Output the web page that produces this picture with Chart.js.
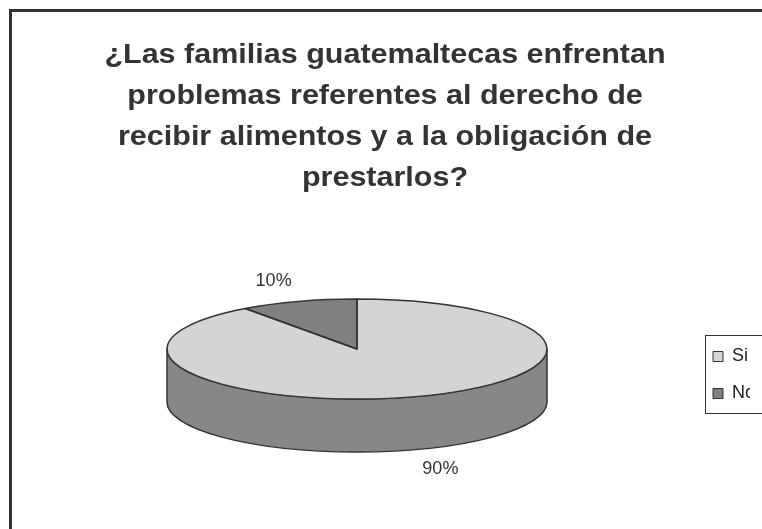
<!DOCTYPE html>
<html>
<head>
<meta charset="utf-8">
<script src="https://cdn.jsdelivr.net/npm/chart.js@4.4.1/dist/chart.umd.min.js"></script>
<style>
  html, body { margin: 0; padding: 0; width: 762px; height: 529px; overflow: hidden; background: #fff; }
  #frame { position: absolute; left: 9px; top: 9px; width: 800px; height: 560px; border: 3px solid #333; }
  #pie { position: absolute; left: 0; top: 0; }
</style>
</head>
<body>
<div id="frame"></div>
<canvas id="pie" width="762" height="529"></canvas>
<script>
const categories = ['Si', 'No'];
const values = [90, 10];
const titleLines = [
    '¿Las familias guatemaltecas enfrentan',
    'problemas referentes al derecho de',
    'recibir alimentos y a la obligación de',
    'prestarlos?'
];

const family = '"Liberation Sans", Arial, sans-serif';
const topColors = ['#d4d4d4', '#808080'];
const sideColors = ['#878787', '#5c5c5c'];
const outline = '#333333';
const tilt = 50 / 190;      // vertical squash of the pie
const depth = 53;           // thickness of the 3d side
const labelReach = 1.42;    // label distance, in radii
const legendDrop = 26;
const titleStretch = 1.13;  // the original title is drawn a bit wide

// fake 3d: side drawn first, the library's arcs squashed, outlines on top
const pie3d = {
    id: 'pie3d',
    afterLayout(chart) {
        chart.legend.top += legendDrop;
        chart.legend.bottom += legendDrop;

        const title = chart.titleBlock;
        if (title && !title._stretched) {
            const draw = title.draw;
            title.draw = function () {
                const ctx = this.ctx;
                const cx = (this.left + this.right) / 2;
                ctx.save();
                ctx.translate(cx, 0);
                ctx.scale(titleStretch, 1);
                ctx.translate(-cx, 0);
                draw.call(this);
                ctx.restore();
            };
            title._stretched = true;
        }
    },
    beforeDatasetsDraw(chart) {
        const ctx = chart.ctx;
        const arcs = chart.getDatasetMeta(0).data;
        const { x, y, outerRadius: r } = arcs[0];
        ctx.save();
        ctx.lineWidth = 1.5;
        ctx.strokeStyle = outline;
        ctx.lineJoin = 'round';
        arcs.forEach((arc, i) => {
            for (const shift of [-2 * Math.PI, 0, 2 * Math.PI]) {
                const a0 = Math.max(arc.startAngle + shift, 0);
                const a1 = Math.min(arc.endAngle + shift, Math.PI);
                if (a1 <= a0) continue;
                ctx.beginPath();
                ctx.ellipse(x, y, r, r * tilt, 0, a0, a1);
                ctx.ellipse(x, y + depth, r, r * tilt, 0, a1, a0, true);
                ctx.closePath();
                ctx.fillStyle = sideColors[i];
                ctx.fill();
                ctx.stroke();
            }
        });
        ctx.restore();
        ctx.save();
        ctx.translate(x, y);
        ctx.scale(1, tilt);
        ctx.translate(-x, -y);
    },
    afterDatasetsDraw(chart) {
        const ctx = chart.ctx;
        ctx.restore();
        const arcs = chart.getDatasetMeta(0).data;
        const { x, y, outerRadius: r } = arcs[0];
        const data = chart.data.datasets[0].data;
        const total = data.reduce((a, b) => a + b, 0);
        ctx.save();
        ctx.lineWidth = 1.5;
        ctx.strokeStyle = outline;
        ctx.lineJoin = 'round';
        arcs.forEach(arc => {
            ctx.beginPath();
            ctx.moveTo(x, y);
            ctx.ellipse(x, y, r, r * tilt, 0, arc.startAngle, arc.endAngle);
            ctx.closePath();
            ctx.stroke();
        });
        ctx.fillStyle = '#333';
        ctx.font = '18px ' + family;
        ctx.textAlign = 'center';
        ctx.textBaseline = 'middle';
        arcs.forEach((arc, i) => {
            const mid = (arc.startAngle + arc.endAngle) / 2;
            const lx = x + Math.cos(mid) * r * labelReach;
            let ly = y + Math.sin(mid) * r * tilt * labelReach;
            if (Math.sin(mid) > 0) ly += depth;
            ctx.fillText(Math.round(data[i] / total * 100) + '%', lx, ly);
        });
        ctx.restore();
    },
    afterDraw(chart) {
        const ctx = chart.ctx;
        const hb = chart.legend.legendHitBoxes;
        const last = hb[hb.length - 1];
        ctx.save();
        ctx.strokeStyle = outline;
        ctx.lineWidth = 1;
        ctx.strokeRect(Math.round(hb[0].left - 8) + 0.5, Math.round(hb[0].top - 13) + 0.5,
            120, Math.round(last.top + last.height + 10 - (hb[0].top - 13)));
        ctx.restore();
    }
};

new Chart(document.getElementById('pie'), {
    type: 'pie',
    data: {
        labels: categories,
        datasets: [{
            data: values,
            backgroundColor: topColors,
            borderWidth: 0,
            radius: 190,
            clip: false
        }]
    },
    options: {
        responsive: false,
        animation: false,
        events: [],
        layout: { padding: { left: 20, right: 12, top: 35, bottom: 30 } },
        plugins: {
            title: {
                display: true,
                text: titleLines,
                color: '#333',
                padding: { top: 0, bottom: 0 },
                font: { size: 27, weight: 'bold', family: family, lineHeight: 41 / 27 }
            },
            legend: {
                position: 'right',
                fullSize: false,
                maxWidth: 56,
                labels: {
                    boxWidth: 10,
                    boxHeight: 10,
                    padding: 19,
                    color: '#222',
                    font: { size: 18, family: family },
                    generateLabels(chart) {
                        const base = Chart.overrides.doughnut.plugins.legend.labels.generateLabels(chart);
                        return base.map(item => Object.assign(item, { strokeStyle: outline, lineWidth: 1 }));
                    }
                }
            },
            tooltip: { enabled: false }
        }
    },
    plugins: [pie3d]
});
</script>
</body>
</html>
